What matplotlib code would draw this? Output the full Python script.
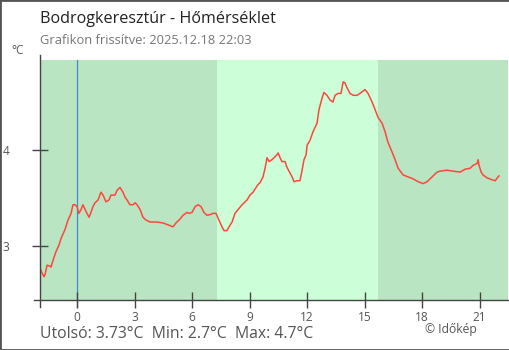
import matplotlib
matplotlib.use("Agg")
import matplotlib.pyplot as plt

# hourly offsets from midnight (negative = previous evening) and temperature in °C
hours = [-1.93, -1.83, -1.72, -1.67, -1.56, -1.41, -1.36, -1.25, -1.10, -0.94,
         -0.83, -0.63, -0.47, -0.31, -0.21, -0.10, 0.00, 0.10, 0.21, 0.31,
         0.42, 0.52, 0.63, 0.73, 0.83, 0.94, 1.10, 1.25, 1.36, 1.51,
         1.67, 1.77, 1.98, 2.09, 2.24, 2.40, 2.50, 2.61, 2.76, 2.92,
         3.03, 3.13, 3.29, 3.44, 3.60, 3.81, 4.17, 4.49, 4.75, 5.01,
         5.16, 5.37, 5.53, 5.74, 5.84, 6.00, 6.16, 6.31, 6.47, 6.62,
         6.78, 6.99, 7.09, 7.25, 7.36, 7.56, 7.67, 7.82, 7.93, 8.09,
         8.24, 8.40, 8.61, 8.87, 9.02, 9.18, 9.44, 9.55, 9.70, 9.81,
         9.91, 10.02, 10.17, 10.28, 10.43, 10.49, 10.59, 10.69, 10.85, 10.95,
         11.11, 11.22, 11.32, 11.48, 11.63, 11.74, 11.84, 11.95, 12.00, 12.15,
         12.31, 12.52, 12.62, 12.78, 12.88, 13.04, 13.20, 13.35, 13.46, 13.62,
         13.77, 13.88, 13.98, 14.08, 14.24, 14.40, 14.61, 14.76, 15.02, 15.18,
         15.39, 15.55, 15.70, 15.91, 16.07, 16.22, 16.43, 16.59, 16.75, 17.01,
         17.27, 17.53, 17.79, 18.05, 18.26, 18.52, 18.78, 18.94, 19.30, 19.61,
         19.98, 20.24, 20.50, 20.66, 20.87, 20.92, 20.97, 21.08, 21.18, 21.39,
         21.65, 21.81, 21.96, 22.01]
temps = [2.77, 2.72, 2.68, 2.70, 2.80, 2.79, 2.78, 2.85, 2.94, 3.01,
         3.08, 3.17, 3.27, 3.34, 3.43, 3.43, 3.41, 3.34, 3.38, 3.43,
         3.38, 3.34, 3.30, 3.35, 3.41, 3.45, 3.48, 3.56, 3.53, 3.46,
         3.48, 3.53, 3.53, 3.58, 3.61, 3.56, 3.51, 3.48, 3.43, 3.43,
         3.45, 3.43, 3.38, 3.30, 3.27, 3.25, 3.25, 3.24, 3.22, 3.20,
         3.24, 3.28, 3.32, 3.35, 3.34, 3.35, 3.41, 3.43, 3.41, 3.35,
         3.32, 3.33, 3.34, 3.34, 3.29, 3.20, 3.16, 3.16, 3.20, 3.25,
         3.34, 3.38, 3.43, 3.48, 3.53, 3.56, 3.64, 3.66, 3.72, 3.81,
         3.92, 3.88, 3.90, 3.92, 3.95, 3.97, 3.92, 3.88, 3.88, 3.82,
         3.76, 3.72, 3.67, 3.68, 3.68, 3.79, 3.90, 3.95, 4.05, 4.10,
         4.19, 4.28, 4.42, 4.54, 4.60, 4.57, 4.52, 4.50, 4.57, 4.59,
         4.59, 4.71, 4.70, 4.65, 4.59, 4.57, 4.57, 4.59, 4.63, 4.59,
         4.50, 4.42, 4.34, 4.28, 4.19, 4.08, 3.98, 3.90, 3.81, 3.74,
         3.72, 3.70, 3.67, 3.65, 3.67, 3.72, 3.77, 3.78, 3.79, 3.78,
         3.77, 3.80, 3.81, 3.84, 3.86, 3.90, 3.84, 3.77, 3.74, 3.71,
         3.69, 3.68, 3.72, 3.73]

sunrise = 7.30
sunset = 15.70
x_ticks = [0, 3, 6, 9, 12, 15, 18, 21]
y_ticks = [3, 4]

title = "Bodrogkeresztúr - Hőmérséklet"
subtitle = "Grafikon frissítve: 2025.12.18 22:03"
summary = "Utolsó: 3.73°C  Min: 2.7°C  Max: 4.7°C"

plt.rcParams["font.family"] = ["Open Sans", "DejaVu Sans"]

W, H = 510, 350
fig = plt.figure(figsize=(W / 100, H / 100), dpi=100, facecolor="white")

# plot box in pixels: x 40..508, y 55..300
ax = fig.add_axes([40 / W, 50 / H, 468 / W, 245 / H])
x0, x1 = -1.93, 22.48
y0, y1 = 2.4375, 4.99
ax.set_xlim(x0, x1)
ax.set_ylim(y0, y1)
ax.set_facecolor("none")
for s in ax.spines.values():
    s.set_visible(False)

band_top = 4.94
night = "#b9e5c2"
day = "#ccffd8"
ax.fill_between([x0, sunrise], y0, band_top, color=night, lw=0, zorder=0)
ax.fill_between([sunrise, sunset], y0, band_top, color=day, lw=0, zorder=0)
ax.fill_between([sunset, x1], y0, band_top, color=night, lw=0, zorder=0)

# midnight marker
ax.plot([0, 0], [-7 / 245, (300 - 60) / 245], transform=ax.get_xaxis_transform(),
        color="#3d8fc8", lw=0.9, clip_on=False, zorder=1)

ax.plot(hours, temps, color="#ff463c", lw=1.1, zorder=3)

# axis lines that overshoot the corner
axis_col = "#444444"
ax.plot([0, 0], [-7 / 245, 1], transform=ax.transAxes, color=axis_col,
        lw=1.0, clip_on=False, zorder=4)
ax.plot([-6 / 468, 1.01], [0, 0], transform=ax.transAxes, color=axis_col,
        lw=1.0, clip_on=False, zorder=4)

ax.set_xticks(x_ticks)
ax.set_yticks(y_ticks)
ax.tick_params(axis="both", direction="inout", length=12, width=1.0,
               color=axis_col, labelcolor="#555555", labelsize=8.6)
ax.tick_params(axis="x", pad=2)
ax.tick_params(axis="y", pad=16)

fig.text(11 / W, 1 - 51 / H, "°C", fontsize=8.5, color="#555555",
         ha="left", va="center")
fig.text(40 / W, 1 - 19 / H, title, fontsize=11.6, color="#222222",
         ha="left", va="center")
fig.text(40 / W, 1 - 41 / H, subtitle, fontsize=9.3, color="#777777",
         ha="left", va="center")
fig.text(40 / W, 1 - 334 / H, summary, fontsize=11.3, color="#555555",
         ha="left", va="center")
fig.text(425 / W, 1 - 330 / H, "© Időkép", fontsize=8.7, color="#555555",
         ha="left", va="center")

# outer frame
fig.patches.append(plt.Rectangle((0, 0), 1, 1, transform=fig.transFigure,
                                 fill=False, edgecolor="#555555", lw=2.0))

fig.savefig("out.png", dpi=100)
plt.close(fig)
